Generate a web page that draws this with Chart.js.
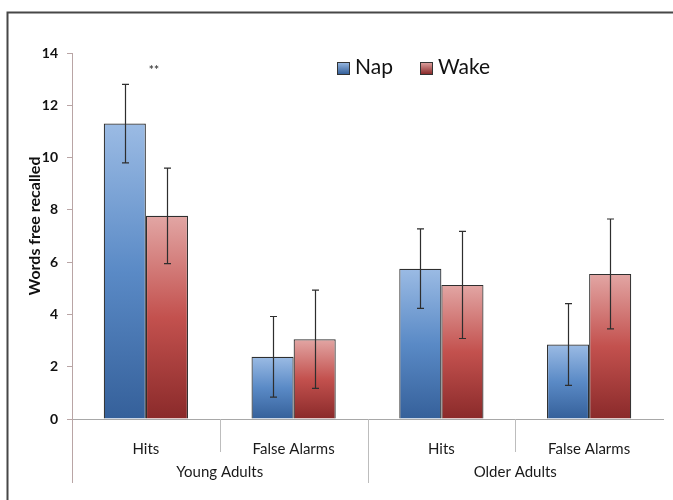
<!DOCTYPE html>
<html><head><meta charset="utf-8">
<script src="https://cdn.jsdelivr.net/npm/chart.js@4.4.0/dist/chart.umd.min.js"></script>
<style>html,body{margin:0;padding:0;background:#fff}#wrap{width:673px;height:500px;position:relative}</style>
</head><body><div id="wrap"><canvas id="c" width="673" height="500"></canvas></div>
<script>
const categories = ['Hits', 'False Alarms', 'Hits', 'False Alarms'];
const groups = ['Young Adults', 'Older Adults'];
const seriesNames = ['Nap', 'Wake'];
const napValues = [11.3, 2.38, 5.75, 2.85];
const napErrors = [1.5, 1.54, 1.52, 1.56];
const wakeValues = [7.77, 3.05, 5.13, 5.55];
const wakeErrors = [1.83, 1.88, 2.05, 2.1];
const yTicks = [0, 2, 4, 6, 8, 10, 12, 14];
const yTitle = 'Words free recalled';
const marks = [{ index: 0, text: '**', value: 13.35 }];

const FONT = 'Lato, "Open Sans", sans-serif';
const napStops = ['#9bbbe4', '#5a8ac6', '#35609a'];
const wakeStops = ['#e2a6a4', '#c3514e', '#8a2a2a'];

function grad(stops) {
  return ctx => {
    const chart = ctx.chart;
    const ys = chart.scales && chart.scales.y;
    if (!chart.chartArea || !ys || ctx.type !== 'data') return stops[1];
    const yt = ys.getPixelForValue(ctx.raw), yb = ys.getPixelForValue(0);
    const g = chart.ctx.createLinearGradient(0, yt, 0, yb);
    g.addColorStop(0, stops[0]); g.addColorStop(0.5, stops[1]); g.addColorStop(1, stops[2]);
    return g;
  };
}

const errors = [napErrors, wakeErrors];
const legendStops = [napStops, wakeStops];

const deco = {
  id: 'deco',
  beforeDraw(chart) {
    const c = chart.ctx;
    c.save();
    c.strokeStyle = '#474747'; c.lineWidth = 2;
    c.beginPath(); c.moveTo(7.5, 500); c.lineTo(7.5, 12.5); c.lineTo(673, 12.5); c.stroke();
    c.restore();
  },
  afterDatasetsDraw(chart) {
    const c = chart.ctx, ys = chart.scales.y;
    c.save();
    c.strokeStyle = '#2e2e2e'; c.lineWidth = 1.2;
    chart.data.datasets.forEach((ds, di) => {
      const meta = chart.getDatasetMeta(di);
      meta.data.forEach((bar, i) => {
        const v = ds.data[i], e = errors[di][i];
        const x = Math.round(bar.x) + 0.5;
        const y1 = ys.getPixelForValue(v + e), y2 = ys.getPixelForValue(v - e);
        c.beginPath();
        c.moveTo(x, y1); c.lineTo(x, y2);
        c.moveTo(x - 3.5, y1); c.lineTo(x + 3.5, y1);
        c.moveTo(x - 3.5, y2); c.lineTo(x + 3.5, y2);
        c.stroke();
      });
    });
    c.restore();
  },
  afterDraw(chart) {
    const c = chart.ctx, xs = chart.scales.x, ys = chart.scales.y, a = chart.chartArea;
    c.save();
    // y axis extension
    c.strokeStyle = '#b9a5a5'; c.lineWidth = 1;
    c.beginPath(); c.moveTo(a.left + 0.5, a.bottom); c.lineTo(a.left + 0.5, 483); c.stroke();
    // separators
    c.strokeStyle = '#bdbdbd';
    for (let i = 0; i < categories.length - 1; i++) {
      const bx = Math.round((xs.getPixelForValue(i) + xs.getPixelForValue(i + 1)) / 2) + 0.5;
      const isGroup = (i + 1) % 2 === 0;
      c.beginPath(); c.moveTo(bx, a.bottom); c.lineTo(bx, isGroup ? 483 : 452); c.stroke();
    }
    // group labels
    c.fillStyle = '#1a1a1a'; c.font = '15px ' + FONT; c.textAlign = 'center'; c.textBaseline = 'middle';
    groups.forEach((g, gi) => {
      const gx = (xs.getPixelForValue(gi * 2) + xs.getPixelForValue(gi * 2 + 1)) / 2;
      c.fillText(g, gx, 472);
    });
    // y title
    c.save();
    c.translate(35, 226); c.rotate(-Math.PI / 2);
    c.font = 'bold 16px ' + FONT; c.fillStyle = '#111';
    c.fillText(yTitle, 0, 0);
    c.restore();
    // significance marks
    c.font = 'bold 12px ' + FONT; c.fillStyle = '#444';
    marks.forEach(m => c.fillText(m.text, xs.getPixelForValue(m.index) + 8, ys.getPixelForValue(m.value)));
    // legend
    const lx = [337, 420];
    c.textAlign = 'left'; c.textBaseline = 'alphabetic'; c.font = '21px ' + FONT;
    seriesNames.forEach((n, i) => {
      const g = c.createLinearGradient(0, 62, 0, 74);
      g.addColorStop(0, legendStops[i][0]); g.addColorStop(1, legendStops[i][2]);
      c.fillStyle = g; c.fillRect(lx[i], 62, 12, 12);
      c.strokeStyle = '#333'; c.lineWidth = 1; c.strokeRect(lx[i] + 0.5, 62.5, 12, 12);
      c.fillStyle = '#111'; c.fillText(n, lx[i] + 18, 74);
    });
    c.restore();
  }
};

new Chart(document.getElementById('c'), {
  type: 'bar',
  data: {
    labels: categories,
    datasets: [
      { label: seriesNames[0], data: napValues, backgroundColor: grad(napStops), borderColor: '#2f2f2f', borderWidth: 1.2 },
      { label: seriesNames[1], data: wakeValues, backgroundColor: grad(wakeStops), borderColor: '#2f2f2f', borderWidth: 1.2 }
    ]
  },
  options: {
    responsive: false,
    animation: false,
    devicePixelRatio: 1,
    layout: { padding: { left: 8, top: 53, right: 10, bottom: 0 } },
    datasets: { bar: { categoryPercentage: 0.57, barPercentage: 1.0 } },
    plugins: { legend: { display: false }, tooltip: { enabled: false } },
    scales: {
      x: {
        grid: { display: false },
        border: { display: true, color: '#a8a8a8', width: 1 },
        ticks: { color: '#1a1a1a', font: { family: FONT, size: 15 }, padding: 13 },
        afterFit: s => { s.height = 81; }
      },
      y: {
        min: 0, max: 14,
        afterBuildTicks: s => { s.ticks = yTicks.map(v => ({ value: v })); },
        grid: { display: true, drawOnChartArea: false, drawTicks: true, tickLength: 5, color: '#b9a5a5' },
        border: { display: true, color: '#b9a5a5', width: 1 },
        ticks: { color: '#111', font: { family: FONT, size: 14, weight: 'bold' }, padding: 9 },
        afterFit: s => { s.width = 64; }
      }
    }
  },
  plugins: [deco]
});
</script></body></html>
